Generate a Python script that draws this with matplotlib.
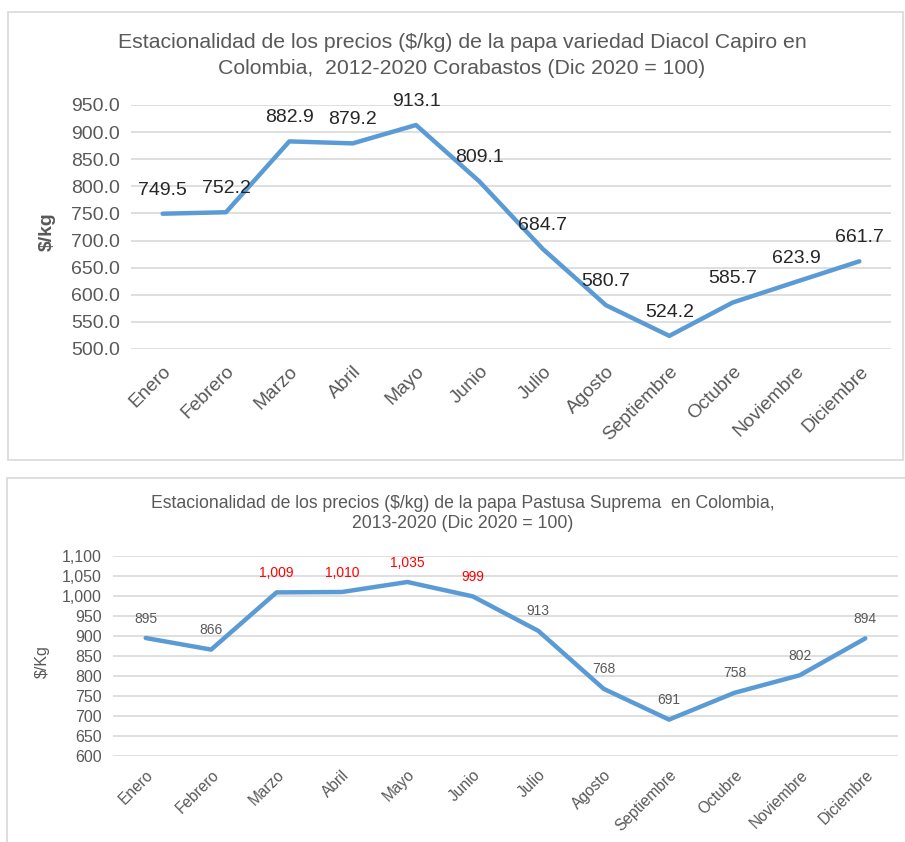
import matplotlib.pyplot as plt
from matplotlib.patches import Rectangle

meses = ["Enero", "Febrero", "Marzo", "Abril", "Mayo", "Junio", "Julio",
         "Agosto", "Septiembre", "Octubre", "Noviembre", "Diciembre"]
capiro = [749.5, 752.2, 882.9, 879.2, 913.1, 809.1, 684.7, 580.7, 524.2, 585.7, 623.9, 661.7]
pastusa = [895, 866, 1009, 1010, 1035, 999, 913, 768, 691, 758, 802, 894]
pastusa_rojos = [False, False, True, True, True, True, False, False, False, False, False, False]

plt.rcParams['font.family'] = ['Liberation Sans', 'DejaVu Sans']
gris = '#595959'
azul = '#5B9BD5'
rejilla = '#D9D9D9'

fig = plt.figure(figsize=(9.05, 8.42), dpi=100)

# marcos de los dos graficos
fig.patches.append(Rectangle((8 / 905, 1 - 460 / 842), 895 / 905, 448 / 842,
                             transform=fig.transFigure, fill=False, edgecolor=rejilla, lw=1.2))
fig.patches.append(Rectangle((7 / 905, -0.01), 905 / 905, 1 - 478 / 842 + 0.01,
                             transform=fig.transFigure, fill=False, edgecolor=rejilla, lw=1.2))

x = list(range(len(meses)))

# --- grafico superior ---
ax1 = fig.add_axes([131 / 905, 1 - 349 / 842, 760 / 905, 244 / 842])
ax1.plot(x, capiro, color=azul, lw=3.2, solid_capstyle='round', solid_joinstyle='round', zorder=3)
for i, v in enumerate(capiro):
    ax1.annotate(f"{v:.1f}", (i, v), xytext=(0, 17), textcoords='offset points',
                 ha='center', va='center', fontsize=14, color='#262626')
ax1.set_ylim(500, 950)
ax1.set_xlim(-0.5, 11.5)
ax1.set_yticks(range(500, 951, 50))
ax1.set_yticklabels([f"{t:.1f}" for t in range(500, 951, 50)])
ax1.set_xticks(x)
ax1.set_xticklabels(meses, rotation=45, ha='right', rotation_mode='anchor')
ax1.tick_params(axis='y', labelsize=14, colors=gris, length=0, pad=8)
ax1.tick_params(axis='x', labelsize=13.8, colors=gris, length=0, pad=10)
ax1.grid(axis='y', color=rejilla, lw=1.2)
ax1.set_axisbelow(True)
for s in ax1.spines.values():
    s.set_visible(False)
ax1.set_ylabel("$/kg", fontsize=14, color=gris, fontweight='bold', labelpad=4)
ax1.yaxis.set_label_coords(-0.099, 0.48)

fig.text(462 / 905, 1 - 43 / 842, "Estacionalidad de los precios ($/kg) de la papa variedad Diacol Capiro en",
         ha='center', va='center', fontsize=15.3, color=gris)
fig.text(462 / 905, 1 - 68 / 842, "Colombia,  2012-2020 Corabastos (Dic 2020 = 100)",
         ha='center', va='center', fontsize=15.3, color=gris)

# --- grafico inferior ---
ax2 = fig.add_axes([113 / 905, 1 - 756 / 842, 785 / 905, 200 / 842])
ax2.plot(x, pastusa, color=azul, lw=3.2, solid_capstyle='round', solid_joinstyle='round', zorder=3)
for i, v in enumerate(pastusa):
    ax2.annotate(f"{v:,}", (i, v), xytext=(0, 14), textcoords='offset points',
                 ha='center', va='center', fontsize=10,
                 color='#FF0000' if pastusa_rojos[i] else gris)
ax2.set_ylim(600, 1100)
ax2.set_xlim(-0.5, 11.5)
ax2.set_yticks(range(600, 1101, 50))
ax2.set_yticklabels([f"{t:,}" for t in range(600, 1101, 50)])
ax2.set_xticks(x)
ax2.set_xticklabels(meses, rotation=45, ha='right', rotation_mode='anchor')
ax2.tick_params(axis='y', labelsize=11.5, colors=gris, length=0, pad=8)
ax2.tick_params(axis='x', labelsize=11.2, colors=gris, length=0, pad=8)
ax2.grid(axis='y', color=rejilla, lw=1.2)
ax2.set_axisbelow(True)
for s in ax2.spines.values():
    s.set_visible(False)
ax2.set_ylabel("$/Kg", fontsize=11.5, color=gris, labelpad=4)
ax2.yaxis.set_label_coords(-0.081, 0.47)

fig.text(463 / 905, 1 - 503 / 842, "Estacionalidad de los precios ($/kg) de la papa Pastusa Suprema  en Colombia,",
         ha='center', va='center', fontsize=12.7, color=gris)
fig.text(463 / 905, 1 - 524 / 842, "2013-2020 (Dic 2020 = 100)",
         ha='center', va='center', fontsize=12.7, color=gris)

fig.savefig("out.png", dpi=100, facecolor='white')
